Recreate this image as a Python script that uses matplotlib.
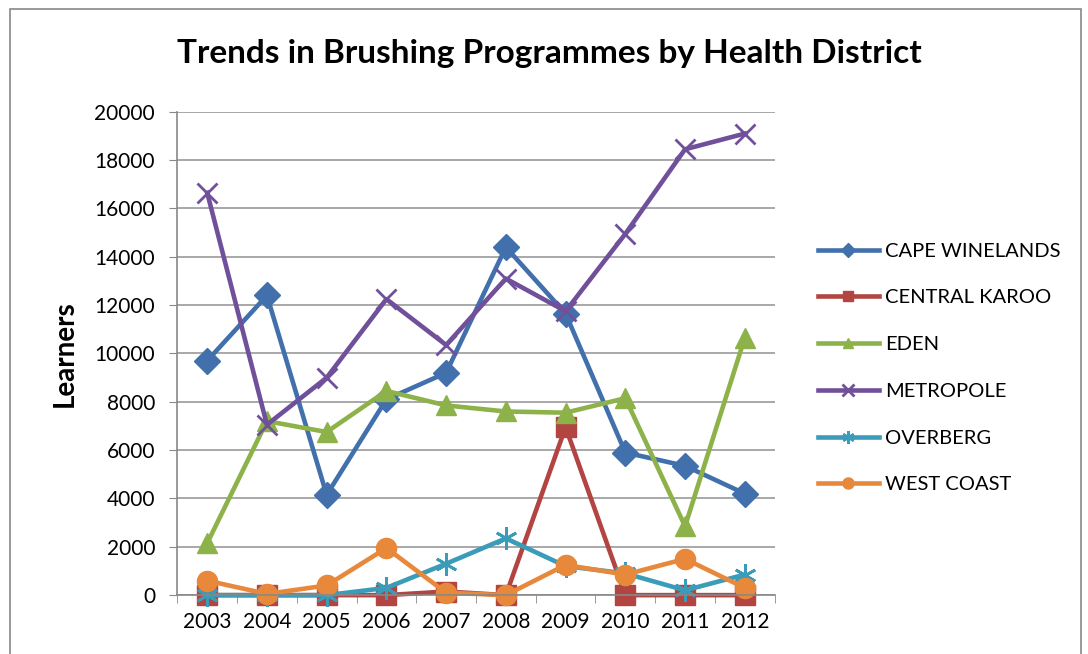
import numpy as np
import matplotlib
matplotlib.use("Agg")
import matplotlib.pyplot as plt
from matplotlib.patches import Rectangle

plt.rcParams["font.family"] = ["Lato", "DejaVu Sans"]

# Dati
anni = ["2003", "2004", "2005", "2006", "2007", "2008", "2009", "2010", "2011", "2012"]
cape_winelands = [9700, 12400, 4150, 8100, 9200, 14400, 11650, 5900, 5350, 4200]
central_karoo = [0, 0, 0, 0, 150, 0, 6950, 0, 0, 0]
eden = [2150, 7200, 6750, 8450, 7850, 7600, 7550, 8150, 2850, 10650]
metropole = [16650, 7050, 9000, 12250, 10350, 13100, 11750, 14950, 18450, 19100]
overberg = [0, 0, 0, 300, 1300, 2350, 1200, 900, 200, 850]
west_coast = [600, 50, 400, 1950, 100, 0, 1250, 850, 1500, 300]

serie = [
    ("CAPE WINELANDS", cape_winelands, "#4170ad", "D", 13),
    ("CENTRAL KAROO", central_karoo, "#b24541", "s", 14),
    ("EDEN", eden, "#8db249", "^", 14),
    ("METROPOLE", metropole, "#70509a", "x", 15),
    ("OVERBERG", overberg, "#3a9cb8", (6, 2, 0), 16),
    ("WEST COAST", west_coast, "#e8883a", "o", 14.5),
]

fig = plt.figure(figsize=(10.88, 6.54), dpi=100)
ax = fig.add_axes([0.163, 0.090, 0.549, 0.739])

x = np.arange(len(anni))
for nome, valori, colore, marker, ms in serie:
    ax.plot(x, valori, color=colore, linewidth=3.3, marker=marker, markersize=ms,
            markeredgewidth=2 if marker in ("x", (6, 2, 0)) else 1,
            markerfacecolor=colore, markeredgecolor=colore, label=nome,
            clip_on=False)

ax.set_xlim(-0.5, len(anni) - 0.5)
ax.set_ylim(0, 20000)
ax.set_yticks(np.arange(0, 20001, 2000))
ax.set_xticks(x)
ax.set_xticklabels(anni)
ax.set_xticks(np.arange(-0.5, len(anni), 1), minor=True)
ax.tick_params(axis="x", which="major", length=0, labelsize=15, pad=12)
ax.tick_params(axis="x", which="minor", length=6, color="#888888")
ax.tick_params(axis="y", length=6, color="#888888", labelsize=15, pad=10)

ax.grid(axis="y", color="#999999", linewidth=1.2)
ax.set_axisbelow(True)
for lato in ["top", "right"]:
    ax.spines[lato].set_visible(False)
for lato in ["left", "bottom"]:
    ax.spines[lato].set_color("#888888")
    ax.spines[lato].set_linewidth(1.2)

ax.set_ylabel("Learners", fontsize=20, fontweight="bold", labelpad=12)
fig.text(0.505, 0.918, "Trends in Brushing Programmes by Health District",
         ha="center", va="center", fontsize=24, fontweight="bold")

ax.legend(loc="center left", bbox_to_anchor=(1.073, 0.47), frameon=False,
          fontsize=14.5, handlelength=3.0, labelspacing=1.47, handletextpad=0.3,
          borderaxespad=0, borderpad=0, markerscale=0.55)

# Cornice esterna
fig.patches.append(Rectangle((0.009, -0.05), 0.985, 1.037, transform=fig.transFigure,
                             fill=False, edgecolor="#888888", linewidth=1.2))

plt.savefig("out.png", dpi=100)
